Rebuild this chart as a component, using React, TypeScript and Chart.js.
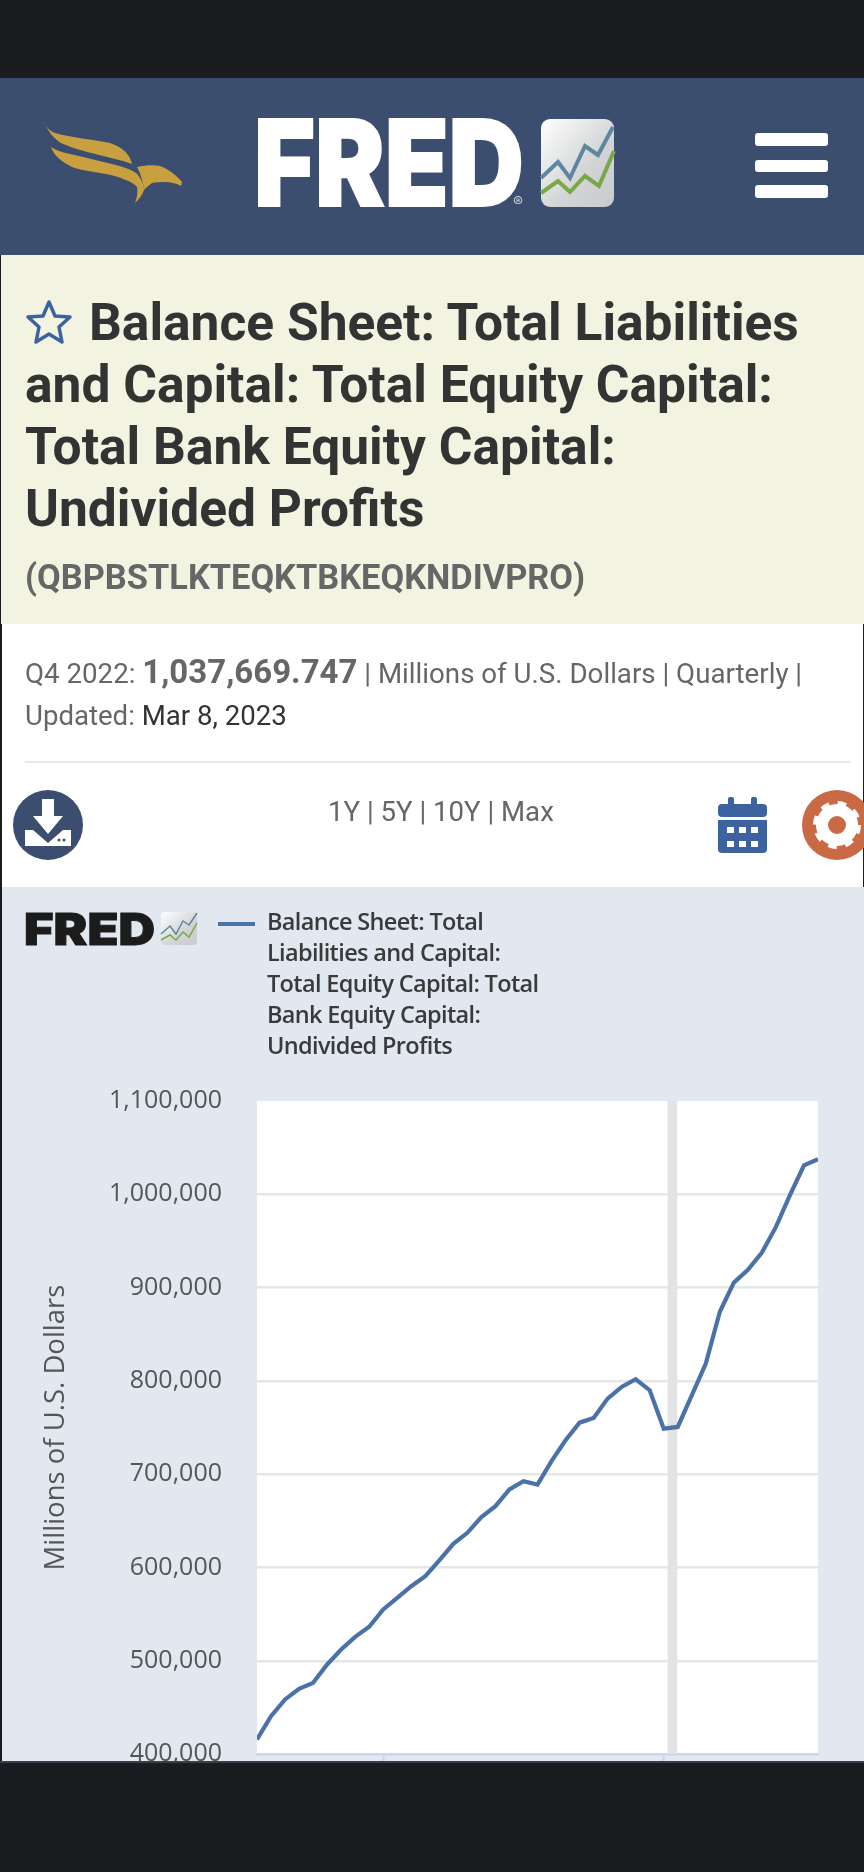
import { useEffect, useRef } from "react"
import { Chart, registerables } from "chart.js"

Chart.register(...registerables)

// decimal year of each quarter, Q4 2012 to Q4 2022
const quarters = [
  2012.75, 2013, 2013.25, 2013.5, 2013.75, 2014, 2014.25, 2014.5, 2014.75, 2015, 2015.25,
  2015.5, 2015.75, 2016, 2016.25, 2016.5, 2016.75, 2017, 2017.25, 2017.5, 2017.75, 2018,
  2018.25, 2018.5, 2018.75, 2019, 2019.25, 2019.5, 2019.75, 2020, 2020.25, 2020.5, 2020.75,
  2021, 2021.25, 2021.5, 2021.75, 2022, 2022.25, 2022.5, 2022.75,
]
const undividedProfits = [
  415600, 440600, 458500, 469900, 476300, 496000, 512000, 525600, 536400, 554900, 567400,
  579900, 590700, 607500, 625300, 637100, 653900, 665700, 683600, 692500, 688900, 714000,
  736300, 755200, 760300, 781000, 793500, 801700, 790000, 748800, 750600, 784500, 818500,
  874000, 905300, 919000, 937500, 965000, 999000, 1031100, 1037670,
]
const yTicks = [400000, 500000, 600000, 700000, 800000, 900000, 1000000, 1100000]
const xTicks = [2015, 2020]
const recession = [2020.07, 2020.24]

const legendLines = [
  "Balance Sheet: Total",
  "Liabilities and Capital:",
  "Total Equity Capital: Total",
  "Bank Equity Capital:",
  "Undivided Profits",
]
const titleLines = [
  "Balance Sheet: Total Liabilities",
  "and Capital: Total Equity Capital:",
  "Total Bank Equity Capital:",
  "Undivided Profits",
]

const plotBackground = {
  id: "plotBackground",
  beforeDraw(chart: Chart) {
    const { ctx, chartArea: a } = chart
    ctx.save()
    ctx.fillStyle = "#ffffff"
    ctx.fillRect(a.left, a.top, a.width, a.height)
    ctx.restore()
  },
  beforeDatasetsDraw(chart: Chart) {
    const { ctx, chartArea: a, scales } = chart
    const x0 = scales.x.getPixelForValue(recession[0])
    const x1 = scales.x.getPixelForValue(recession[1])
    ctx.save()
    ctx.fillStyle = "#e3e3e3"
    ctx.fillRect(x0, a.top, x1 - x0, a.height)
    ctx.restore()
  },
}

function FredChart() {
  const chartRef = useRef<HTMLCanvasElement>(null)

  useEffect(() => {
    if (!chartRef.current) return
    const chart = new Chart(chartRef.current, {
      type: "line",
      data: {
        datasets: [
          {
            data: quarters.map((q, i) => ({ x: q, y: undividedProfits[i] })),
            borderColor: "#4a72a8",
            borderWidth: 4.2,
            pointRadius: 0,
            tension: 0,
          },
        ],
      },
      options: {
        animation: false,
        responsive: false,
        layout: { padding: { top: 214, left: 40, right: 46, bottom: 0 } },
        plugins: { legend: { display: false }, tooltip: { enabled: false } },
        scales: {
          x: {
            type: "linear",
            min: 2012.75,
            max: 2022.75,
            afterBuildTicks: (scale) => {
              scale.ticks = xTicks.map((value) => ({ value }))
            },
            afterFit: (scale) => {
              scale.height = 9
              scale.paddingLeft = 0
              scale.paddingRight = 0
            },
            ticks: { callback: () => "", padding: 0, maxRotation: 0 },
            grid: { drawOnChartArea: false, tickLength: 9, tickColor: "#ccd6eb", tickWidth: 2 },
            border: { color: "#ccd6eb", width: 2.5 },
          },
          y: {
            min: 400000,
            max: 1100000,
            afterBuildTicks: (scale) => {
              scale.ticks = yTicks.map((value) => ({ value }))
            },
            afterFit: (scale) => {
              scale.width = 217
              // labels may run over the plot's top and bottom edges
              scale.paddingTop = 0
              scale.paddingBottom = 0
            },
            title: {
              display: true,
              text: "Millions of U.S. Dollars",
              color: "#555555",
              font: { family: "Open Sans", size: 27.5 },
              padding: 0,
            },
            ticks: {
              color: "#555555",
              font: { family: "Open Sans", size: 25 },
              padding: 35,
              callback: (v) => Number(v).toLocaleString("en-US"),
            },
            grid: {
              drawTicks: false,
              lineWidth: 2.4,
              color: (c) =>
                c.tick.value === 400000 || c.tick.value === 1100000 ? "rgba(0,0,0,0)" : "#e6e6e6",
            },
            border: { display: false },
          },
        },
      },
      plugins: [plotBackground],
    })
    return () => chart.destroy()
  }, [])

  return (
    <canvas
      ref={chartRef}
      width={864}
      height={876}
      style={{ position: "absolute", left: 0, top: 887, width: 864, height: 876 }}
    />
  )
}

function Label(props: { x: number; y: number; size: number; color: string; weight?: number; font?: string; spacing?: number; children: any }) {
  // y is the vertical middle of the line
  return (
    <div
      style={{
        position: "absolute",
        left: props.x,
        top: props.y - 30,
        height: 60,
        lineHeight: "60px",
        fontSize: props.size,
        color: props.color,
        fontWeight: props.weight ?? 400,
        fontFamily: props.font ?? "Roboto",
        letterSpacing: props.spacing ?? 0,
        whiteSpace: "nowrap",
      }}
    >
      {props.children}
    </div>
  )
}

function Art() {
  const navy = "#3b4e70"
  const blue = "#3d62a0"
  return (
    <svg
      width={864}
      height={1872}
      style={{ position: "absolute", left: 0, top: 0 }}
      fontFamily="Inter"
    >
      <defs>
        <linearGradient id="tile" x1="0" y1="0" x2="1" y2="1">
          <stop offset="0" stopColor="#ffffff" />
          <stop offset="0.6" stopColor="#d2d4d5" />
          <stop offset="1" stopColor="#c8cacb" />
        </linearGradient>
      </defs>
      {/* eagle */}
      <path d="M44 120 C46 128 50 131 55 133 C72 138 92 139 110 143 C122 147 130 154 132 164 C122 160 110 158 99 155 C84 151 72 148 61 143 C52 137 47 130 44 120 Z" fill="#c9a03f" />
      <path d="M51 147 C60 153 72 154 83 157 C94 160 105 162 116 165 C128 168 136 172 138 175 C142 180 144 186 144 190 C142 196 138 200 135 203 C137 198 138 192 137 187 C133 182 126 180 118 177 C102 172 86 172 72 167 C62 162 54 156 51 147 Z" fill="#c9a03f" />
      <path d="M137 167 C146 165 154 165 160 166 C170 170 177 176 182 182 L181 186 C176 183 170 182 165 182 C160 182 155 182 152 183 C149 185 146 188 144 190 C143 182 141 174 137 167 Z" fill="#c9a03f" />
      {/* FRED logo */}
      <text x={254} y={206} fontSize={119} fontWeight={900} fill="#ffffff" stroke="#ffffff" strokeWidth={2} textLength={270} lengthAdjust="spacingAndGlyphs">FRED</text>
      <text x={513} y={207} fontSize={15} fill="#c9ced8">®</text>
      <rect x={541} y={119} width={73} height={88} rx={9} fill="url(#tile)" />
      <polyline points="541,178 558,162 570,178 585,146 598,155 613,127" fill="none" stroke="#5f86a0" strokeWidth={4} />
      <polyline points="541,193 558,181 570,192 585,176 599,186 614,151" fill="none" stroke="#7aa846" strokeWidth={4} />
      {/* menu */}
      <rect x={755} y={133} width={73} height={13} rx={3} fill="#ffffff" />
      <rect x={755} y={160} width={73} height={12} rx={3} fill="#ffffff" />
      <rect x={755} y={185} width={73} height={13} rx={3} fill="#ffffff" />
      {/* star */}
      <path d="M49 302 L55 316 L70 317 L59 327 L62 342 L49 334 L36 342 L39 327 L28 317 L43 316 Z" fill="none" stroke={blue} strokeWidth={3.5} strokeLinejoin="round" />
      {/* download */}
      <circle cx={48} cy={825} r={35} fill={navy} />
      <path d="M42 799 H54 V816 H63 L48 834 L33 816 H42 Z" fill="#ffffff" />
      <path d="M25 830 H33 L48 843 L63 830 H71 V846 H25 Z" fill="#ffffff" />
      <circle cx={59} cy={840} r={1.5} fill={navy} />
      <circle cx={64} cy={840} r={1.5} fill={navy} />
      {/* calendar */}
      <rect x={718} y={804} width={49} height={13} rx={4} fill={blue} />
      <rect x={728} y={797} width={6} height={9} rx={2} fill={blue} />
      <rect x={751} y={797} width={6} height={9} rx={2} fill={blue} />
      <path d="M718 820 H767 V849 Q767 853 763 853 H722 Q718 853 718 849 Z" fill={blue} />
      {[727, 739, 751].map((x) =>
        [827, 841].map((y) => <rect key={x + "-" + y} x={x} y={y} width={7} height={6} fill="#ffffff" />),
      )}
      {/* settings */}
      <circle cx={837} cy={825} r={35} fill="#c96a45" />
      <circle cx={837} cy={825} r={15} fill="none" stroke="#ffffff" strokeWidth={12} />
      <circle cx={837} cy={825} r={21} fill="none" stroke="#ffffff" strokeWidth={6} strokeDasharray="8.2 8.3" />
      {/* small logo in the chart panel */}
      <text x={24} y={945} fontSize={44} fontWeight={900} fill="#1c1c1c" stroke="#1c1c1c" strokeWidth={1} textLength={131} lengthAdjust="spacingAndGlyphs">FRED</text>
      <rect x={161} y={912} width={36} height={33} rx={4} fill="url(#tile)" />
      <polyline points="161,934 170,926 176,934 183,921 189,925 197,913" fill="none" stroke="#5f86a0" strokeWidth={1.5} />
      <polyline points="161,940 170,935 176,940 183,932 189,937 197,923" fill="none" stroke="#7aa846" strokeWidth={1.5} />
      {/* legend key */}
      <rect x={218} y={922} width={37} height={4} fill="#4a72a8" />
    </svg>
  )
}

export default function App() {
  useEffect(() => {
    document.body.style.margin = "0"
    document.body.style.background = "#1a1c1f"
  }, [])

  return (
    <div style={{ position: "relative", width: 864, height: 1872, overflow: "hidden", background: "#1a1c1f" }}>
      <div style={{ position: "absolute", left: 0, top: 78, width: 864, height: 177, background: "#3b4e70" }} />
      <div style={{ position: "absolute", left: 1, top: 255, width: 863, height: 369, background: "#f2f4e1" }} />
      <div style={{ position: "absolute", left: 2, top: 624, width: 861, height: 263, background: "#ffffff" }} />
      <div style={{ position: "absolute", left: 2, top: 887, width: 862, height: 876, background: "#e1e8ef" }} />
      <div style={{ position: "absolute", left: 25, top: 761, width: 826, height: 2, background: "#e6e9ec" }} />

      <FredChart />
      <Art />

      {titleLines.map((line, i) => (
        <Label key={line} x={i === 0 ? 89 : 25} y={323 + i * 62} size={51.5} color="#333333" weight={700}>
          {line}
        </Label>
      ))}
      <Label x={25} y={577} size={34.4} color="#666666" weight={700}>
        (QBPBSTLKTEQKTBKEQKNDIVPRO)
      </Label>
      <Label x={25} y={672} size={27.7} color="#666666">
        Q4 2022: <b style={{ fontSize: 33 }}>1,037,669.747</b> | Millions of U.S. Dollars | Quarterly |
      </Label>
      <Label x={25} y={716} size={27.6} color="#666666">
        Updated: <span style={{ color: "#333333" }}>Mar 8, 2023</span>
      </Label>
      <Label x={328} y={812} size={27.6} color="#666666">
        1Y | 5Y | 10Y | Max
      </Label>

      {legendLines.map((line, i) => (
        <Label key={line} x={267} y={921 + i * 31} size={23.5} color="#3a3a3a" weight={600} font="Open Sans" spacing={-0.66}>
          {line}
        </Label>
      ))}

      <div style={{ position: "absolute", left: 0, top: 1761, width: 864, height: 2, background: "#3a3f47" }} />
    </div>
  )
}
